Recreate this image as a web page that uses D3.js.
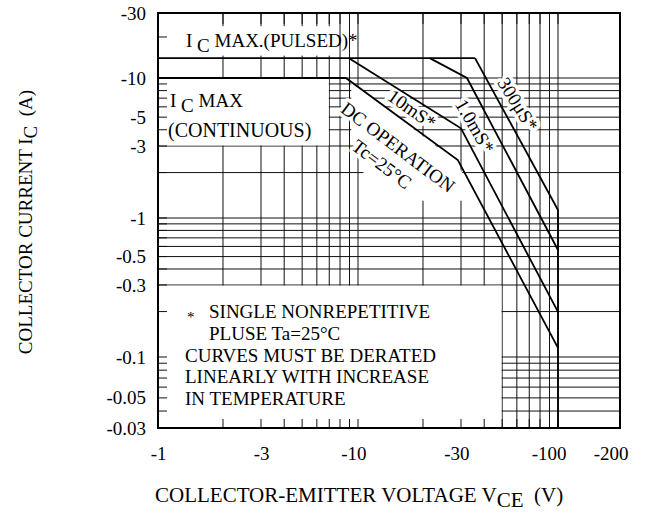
<!DOCTYPE html>
<html><head><meta charset="utf-8">
<script src="https://cdn.jsdelivr.net/npm/d3@7"></script>
<style>
body{margin:0;background:#fff}
text{font-family:"Liberation Serif","Times New Roman",serif;fill:#000}
</style>
</head><body><svg id="c" width="653" height="515"></svg>
<script>
// ---------- data ----------
const xTickValues = [1, 3, 10, 30, 100, 200];
const xTickLabels = ["-1", "-3", "-10", "-30", "-100", "-200"];
const yTickValues = [0.03, 0.05, 0.1, 0.3, 0.5, 1, 3, 5, 10, 30];
const yTickLabels = ["-0.03", "-0.05", "-0.1", "-0.3", "-0.5", "-1", "-3", "-5", "-10", "-30"];
// |VCE| (V) and |IC| (A)
const icPulsedV = [1, 35.7];
const icPulsedI = [14, 14];
const dcV = [1, 8.6, 29, 100];
const dcI = [10, 10, 2.42, 0.115];
const t10msV = [8.9, 30, 100];
const t10msI = [14, 4.1, 0.199];
const t1msV = [21.5, 32.3, 100];
const t1msI = [14, 10, 0.563];
const t300usV = [35.7, 100];
const t300usI = [14, 1.13];
const vceoV = [100, 100];
const vceoI = [1.13, 0.03];

// ---------- layout ----------
const m = {l:158, t:13, r:620, b:428};
const FS = 19;
const svg = d3.select("#c");
// log scales, piecewise to follow the hand-drawn grid of the original
const x = d3.scaleLog().domain([1, 3, 10, 30, 100, 200]).range([158, 261, 358, 461, 558, 620]);
const y = d3.scaleLog().domain([0.03, 0.1, 0.3, 1, 3, 10, 30]).range([428, 357, 285, 218, 146, 78, 13]);

const xMinor = [], yMinor = [];
for (const d of [1, 10, 100]) for (let k = 1; k <= 9; k++) { const v = +(k*d).toPrecision(6); if (v > 1 && v < 200) xMinor.push(v); }
for (const d of [0.01, 0.1, 1, 10]) for (let k = 1; k <= 9; k++) { const v = +(k*d).toPrecision(6); if (v > 0.0300001 && v < 29.9999) yMinor.push(v); }

const grid = svg.append("g").attr("stroke", "#111").attr("stroke-width", 1);
grid.selectAll("line.h").data(yMinor.filter(v => v !== 20)).join("line")
  .attr("x1", m.l).attr("x2", m.r).attr("y1", d => y(d)).attr("y2", d => y(d));
grid.selectAll("line.v").data(xMinor).join("line")
  .attr("y1", m.t).attr("y2", m.b).attr("x1", d => x(d)).attr("x2", d => x(d));

// white label boxes
const boxes = [
  {v0:1, v1:7.5, i0:14.6, i1:24},
  {v0:1, v1:6.96, i0:3.03, i1:9.9},
  {v0:1, v1:49.6, i0:0.03, i1:0.297}
];
svg.append("g").selectAll("rect").data(boxes).join("rect")
  .attr("fill", "#fff")
  .attr("x", d => x(d.v0)).attr("width", d => x(d.v1) - x(d.v0))
  .attr("y", d => y(d.i1)).attr("height", d => y(d.i0) - y(d.i1));
const dcMask = [[9.2,9.4],[28,2.4],[38,1.3],[10.6,1.3],[10.6,2.1],[9.2,3.3]];
svg.append("polygon").attr("fill", "#fff")
  .attr("points", dcMask.map(p => [x(p[0]), y(p[1])].join(",")).join(" "));

// inward ticks
const ticks = svg.append("g").attr("stroke", "#111").attr("stroke-width", 1);
ticks.selectAll("line.l").data(yMinor).join("line")
  .attr("x1", m.l).attr("x2", m.l + 9).attr("y1", d => y(d)).attr("y2", d => y(d));
ticks.selectAll("line.b").data(xMinor).join("line")
  .attr("y1", m.b).attr("y2", m.b - 9).attr("x1", d => x(d)).attr("x2", d => x(d));
ticks.selectAll("line.t").data(xMinor).join("line")
  .attr("y1", m.t).attr("y2", m.t + 11).attr("x1", d => x(d)).attr("x2", d => x(d));

// rotated labels (halo first, then text after curves)
const rotLabels = [
  {t:"10mS*", cx:412, cy:109, a:35},
  {t:"1.0mS*", cx:475, cy:126, a:60},
  {t:"300μS*", cx:518, cy:104, a:58},
  {t:"DC OPERATION", cx:398, cy:147, a:37},
  {t:"Tc=25°C", cx:382, cy:164, a:37}
];
function drawRot(g, halo) {
  g.selectAll("text").data(rotLabels).join("text")
    .attr("transform", d => `translate(${d.cx},${d.cy}) rotate(${d.a})`)
    .attr("text-anchor", "middle").attr("dy", "0.35em")
    .style("font-size", FS + "px")
    .attr("stroke", halo ? "#fff" : null).attr("stroke-width", halo ? 7 : null)
    .attr("stroke-linejoin", "round")
    .style("fill", halo ? "#fff" : "#000")
    .text(d => d.t);
}
drawRot(svg.append("g"), true);

// curves
const line = d3.line().x(d => x(d[0])).y(d => y(d[1]));
const curves = [
  [icPulsedV, icPulsedI], [dcV, dcI], [t10msV, t10msI],
  [t1msV, t1msI], [t300usV, t300usI], [vceoV, vceoI]
];
svg.append("g").selectAll("path").data(curves).join("path")
  .attr("fill", "none").attr("stroke", "#000").attr("stroke-width", 1.8)
  .attr("d", c => line(c[0].map((v, i) => [v, c[1][i]])));

// frame
svg.append("rect").attr("x", m.l).attr("y", m.t).attr("width", m.r - m.l).attr("height", m.b - m.t)
  .attr("fill", "none").attr("stroke", "#000").attr("stroke-width", 2);

drawRot(svg.append("g"), false);

// axes labels
const ax = svg.append("g").attr("transform", `translate(${m.l},0)`)
  .call(d3.axisLeft(y).tickValues(yTickValues).tickFormat((d, i) => yTickLabels[i]).tickSize(0).tickPadding(12));
const bx = svg.append("g").attr("transform", `translate(0,${m.b})`)
  .call(d3.axisBottom(x).tickValues(xTickValues).tickFormat((d, i) => xTickLabels[i]).tickSize(0).tickPadding(19));
[ax, bx].forEach(g => { g.select(".domain").remove(); g.selectAll("text").style("font-size", FS + "px").attr("font-family", null); });
bx.selectAll("text").attr("text-anchor", "end").attr("dx", 8);

// in-plot texts
function sub(x0, y0, parts, fs) {
  const el = svg.append("text").attr("x", x0).attr("y", y0).style("font-size", (fs || FS) + "px");
  parts.forEach(p => { el.append("tspan").text(p[0]).attr("dy", p[1] || null); });
  return el;
}
sub(186, 47, [["I "], ["C", 5], [" MAX.(PULSED)*", -5]]);
sub(170, 107, [["I "], ["C", 5], [" MAX", -5]]);
svg.append("text").attr("x", 168).attr("y", 137).style("font-size", "20px").text("(CONTINUOUS)");
svg.append("text").attr("x", 187).attr("y", 322).style("font-size", "15px").text("*");
const notes = [
  ["SINGLE NONREPETITIVE", 209, 318],
  ["PLUSE Ta=25°C", 209, 340],
  ["CURVES MUST BE DERATED", 185, 362],
  ["LINEARLY WITH INCREASE", 185, 383],
  ["IN TEMPERATURE", 185, 405]
];
svg.append("g").selectAll("text").data(notes).join("text")
  .attr("x", d => d[1]).attr("y", d => d[2]).style("font-size", FS + "px").text(d => d[0]);

// axis titles
const xt = svg.append("text").attr("x", 155).attr("y", 502).attr("text-anchor", "start").style("font-size", "21px");
xt.append("tspan").text("COLLECTOR-EMITTER VOLTAGE V");
xt.append("tspan").text("CE").attr("dy", 5);
xt.append("tspan").text("\u00a0\u00a0(V)").attr("dy", -5);
const yt = svg.append("text").attr("transform", "translate(32,222) rotate(-90)").attr("text-anchor", "middle").style("font-size", FS + "px");
yt.append("tspan").text("COLLECTOR CURRENT I");
yt.append("tspan").text("C").attr("dy", 5);
yt.append("tspan").text("\u00a0\u00a0(A)").attr("dy", -5);
</script></body></html>
